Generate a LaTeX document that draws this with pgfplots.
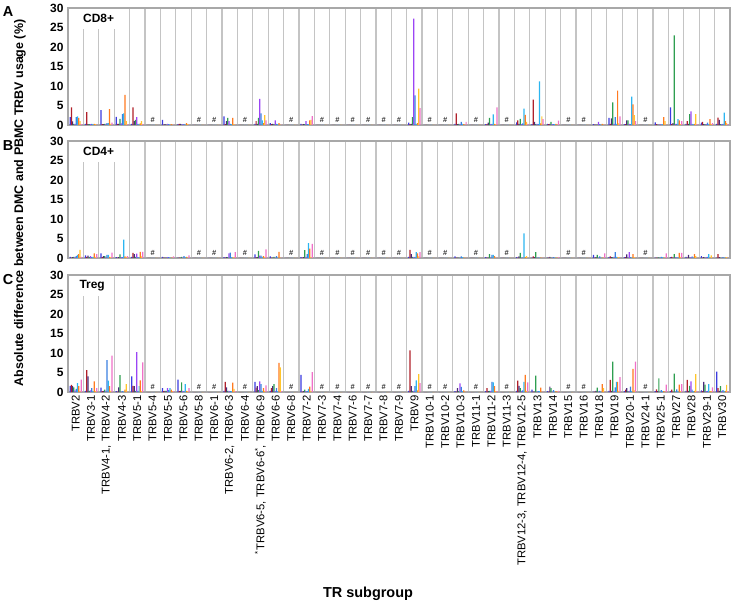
\documentclass[border=0pt]{standalone}
\usepackage{pgfplots}
\pgfplotsset{compat=1.18}
\usepackage{pgfplotstable}
\usepackage{fontspec}
\setmainfont{Liberation Sans}

\definecolor{c1}{HTML}{3B3BE0}
\definecolor{c2}{HTML}{B0202A}
\definecolor{c3}{HTML}{4A2A7A}
\definecolor{c4}{HTML}{2E9E50}
\definecolor{c5}{HTML}{9B45F5}
\definecolor{c6}{HTML}{3A80E0}
\definecolor{c7}{HTML}{2CB5F0}
\definecolor{c8}{HTML}{FF7A20}
\definecolor{c9}{HTML}{FFC52A}
\definecolor{c10}{HTML}{F070C8}
\definecolor{gridc}{HTML}{C4C4C4}
\definecolor{framec}{HTML}{A8A8A8}

% CD8+
\pgfplotstableread{
x a b c d e f g h i j
0 2.0 4.5 0.9 0.3 0.3 2.0 2.2 1.8 1.0 0.2
1 0.3 3.3 0.2 0.2 0.2 0.3 0.2 0.3 0.2 0.1
2 3.8 0.2 0.2 0.3 0.3 0.5 0.5 4.1 0.3 0.6
3 2.1 0.3 0.3 1.6 0.4 2.8 3.0 7.7 1.0 0.2
4 0.3 4.5 1.0 1.3 2.0 0.3 0.2 0.4 1.0 0.2
5 0 0 0 0 0 0 0 0 0 0
6 1.3 0.1 0.2 0.1 0.3 0.2 0.1 0.2 0.1 0.1
7 0.2 0.3 0.3 0.1 0.2 0.2 0.1 0.5 0.2 0.1
8 0 0 0 0 0 0 0 0 0 0
9 0 0 0 0 0 0 0 0 0 0
10 2.2 0.2 1.0 1.8 1.0 0.3 0.2 1.8 0.2 0.1
11 0 0 0 0 0 0 0 0 0 0
12 0.3 1.0 0.3 1.8 6.7 3.0 1.2 0.5 2.5 1.2
13 0.5 0.2 0.3 0.2 1.2 0.3 0.2 0.5 0.1 0.1
14 0 0 0 0 0 0 0 0 0 0
15 0.3 0.1 0.2 0.2 1.0 0.2 0.2 1.2 1.3 2.3
16 0 0 0 0 0 0 0 0 0 0
17 0 0 0 0 0 0 0 0 0 0
18 0 0 0 0 0 0 0 0 0 0
19 0 0 0 0 0 0 0 0 0 0
20 0 0 0 0 0 0 0 0 0 0
21 0 0 0 0 0 0 0 0 0 0
22 0.6 0.2 0.3 2.0 27.3 7.6 0.3 0.5 9.3 4.3
23 0 0 0 0 0 0 0 0 0 0
24 0 0 0 0 0 0 0 0 0 0
25 0.3 3.0 0.2 0.3 0.2 0.8 0.3 0.2 0.1 0.8
26 0 0 0 0 0 0 0 0 0 0
27 0.2 0.2 0.6 1.8 0.2 0.3 2.7 0.3 0.2 4.5
28 0 0 0 0 0 0 0 0 0 0
29 0.7 1.2 0.3 1.6 0.2 0.4 4.2 2.6 0.8 0.3
30 0.2 6.5 0.8 0.2 0.3 0.2 11.2 0.4 2.2 1.5
31 0.3 0.2 0.3 0.8 0.2 0.2 0.2 0.3 0.1 1.1
32 0 0 0 0 0 0 0 0 0 0
33 0 0 0 0 0 0 0 0 0 0
34 0.2 0.1 0.1 0.1 0.8 0.2 0.1 0.3 0.1 0.1
35 1.8 0.3 1.7 5.8 0.3 2.0 0.3 8.8 0.4 2.2
36 0.2 0.2 1.2 1.2 0.3 0.2 7.3 5.3 2.5 1.0
37 0 0 0 0 0 0 0 0 0 0
38 0.7 0.2 0.1 0.1 0.2 0.1 0.2 2.0 1.0 0.1
39 4.5 0.2 0.5 23.0 0.3 0.3 1.5 1.2 0.2 1.0
40 0.3 1.0 0.3 2.8 3.5 0.3 0.2 0.3 2.8 0.2
41 0.6 0.8 0.2 0.2 0.2 0.6 0.2 1.5 0.2 0.5
42 0.3 1.9 1.3 0.2 0.2 0.3 3.2 1.0 0.5 0.2
}\tA

% CD4+
\pgfplotstableread{
x a b c d e f g h i j
0 0.3 0.1 0.2 0.3 0.3 0.5 0.8 1.0 2.1 0.3
1 0.7 0.3 0.6 0.2 0.5 0.2 0.3 1.2 0.3 1.0
2 1.2 0.2 0.5 0.5 0.3 0.8 0.8 0.3 0.2 1.4
3 0.2 0.1 0.2 0.9 0.2 0.2 4.7 0.4 0.3 0.5
4 0.3 1.3 1.0 0.3 1.1 0.2 0.2 1.6 0.4 1.6
5 0 0 0 0 0 0 0 0 0 0
6 0.3 0.1 0.1 0.1 0.2 0.2 0.1 0.1 0.1 0.4
7 0.1 0.1 0.1 0.3 0.1 0.5 0.2 0.3 0.1 0.7
8 0 0 0 0 0 0 0 0 0 0
9 0 0 0 0 0 0 0 0 0 0
10 0.2 0.1 0.2 0.2 1.2 1.4 0.2 0.1 0.2 1.5
11 0 0 0 0 0 0 0 0 0 0
12 0.9 0.2 0.2 1.8 0.6 0.6 0.3 0.5 0.2 2.2
13 0.4 0.1 0.1 0.3 0.1 0.5 0.1 1.6 0.1 0.1
14 0 0 0 0 0 0 0 0 0 0
15 0.2 0.1 0.2 2.0 0.3 1.0 3.8 2.4 0.2 3.6
16 0 0 0 0 0 0 0 0 0 0
17 0 0 0 0 0 0 0 0 0 0
18 0 0 0 0 0 0 0 0 0 0
19 0 0 0 0 0 0 0 0 0 0
20 0 0 0 0 0 0 0 0 0 0
21 0 0 0 0 0 0 0 0 0 0
22 0.3 2.1 1.0 0.3 0.2 0.3 1.5 1.2 0.4 1.5
23 0 0 0 0 0 0 0 0 0 0
24 0 0 0 0 0 0 0 0 0 0
25 0.4 0.1 0.1 0.1 0.1 0.4 0.2 0.1 0.1 0.1
26 0 0 0 0 0 0 0 0 0 0
27 0.2 0.1 0.1 1.0 0.1 0.8 0.8 0.5 0.1 0.1
28 0 0 0 0 0 0 0 0 0 0
29 0.2 0.1 0.4 1.3 0.1 0.1 6.3 0.2 0.5 0.1
30 0.1 0.4 0.2 1.5 0.1 0.1 0.1 0.1 0.1 0.1
31 0.1 0.1 0.3 0.1 0.1 0.2 0.1 0.1 0.1 0.2
32 0 0 0 0 0 0 0 0 0 0
33 0 0 0 0 0 0 0 0 0 0
34 0.8 0.1 0.2 0.8 0.1 0.4 0.1 0.1 0.1 1.2
35 0.2 0.4 0.2 0.2 0.3 1.5 0.3 0.1 0.2 0.1
36 0.2 0.2 0.9 0.1 1.5 0.2 0.1 1.0 0.2 0.1
37 0 0 0 0 0 0 0 0 0 0
38 0.1 0.1 0.1 0.2 0.1 0.3 0.2 0.1 0.1 1.2
39 0.2 0.3 0.1 1.0 0.2 0.1 0.2 1.3 0.3 1.3
40 0.3 0.1 0.8 0.1 0.2 0.4 0.1 1.0 0.5 0.1
41 0.5 0.1 0.2 0.1 0.2 0.3 1.0 0.1 0.7 0.1
42 0.1 1.0 0.2 0.1 0.1 0.2 0.1 0.1 0.2 0.1
}\tB

% Treg
\pgfplotstableread{
x a b c d e f g h i j
0 1.6 1.8 1.5 1.2 0.4 0.8 2.3 1.5 0.3 3.2
1 0.3 5.6 4.0 0.3 0.4 1.0 0.2 2.7 0.3 1.0
2 1.1 0.2 0.3 0.6 0.3 8.2 2.9 1.5 0.3 9.3
3 0.2 0.1 1.2 4.3 0.1 0.2 0.1 0.6 2.0 0.1
4 4.0 1.6 1.5 0.3 10.2 0.3 1.5 3.0 0.3 7.6
5 0 0 0 0 0 0 0 0 0 0
6 1.0 0.2 0.3 0.3 1.0 0.5 1.0 0.6 0.2 0.2
7 3.2 0.2 0.3 2.5 0.3 0.2 2.0 0.3 0.2 1.0
8 0 0 0 0 0 0 0 0 0 0
9 0 0 0 0 0 0 0 0 0 0
10 0.3 2.6 1.2 0.3 0.3 0.2 0.2 2.4 0.8 0.2
11 0 0 0 0 0 0 0 0 0 0
12 2.6 1.1 1.5 0.5 2.7 2.0 0.3 1.0 0.3 1.7
13 0.3 1.0 1.5 2.0 0.3 1.0 0.2 7.5 6.3 0.2
14 0 0 0 0 0 0 0 0 0 0
15 4.4 0.1 0.2 0.6 0.2 0.2 0.8 1.4 0.2 5.1
16 0 0 0 0 0 0 0 0 0 0
17 0 0 0 0 0 0 0 0 0 0
18 0 0 0 0 0 0 0 0 0 0
19 0 0 0 0 0 0 0 0 0 0
20 0 0 0 0 0 0 0 0 0 0
21 0 0 0 0 0 0 0 0 0 0
22 0.3 10.7 1.5 0.3 0.3 1.5 3.0 0.4 4.6 2.3
23 0 0 0 0 0 0 0 0 0 0
24 0 0 0 0 0 0 0 0 0 0
25 0.2 0.1 1.0 0.2 2.2 1.3 0.2 0.4 0.1 0.1
26 0 0 0 0 0 0 0 0 0 0
27 0.2 1.0 0.2 0.3 0.3 2.6 2.5 1.5 0.2 0.2
28 0 0 0 0 0 0 0 0 0 0
29 0.3 2.9 1.6 1.0 0.3 0.4 2.6 4.4 0.3 2.5
30 0.6 0.1 0.1 4.2 0.1 0.2 0.2 1.1 0.1 0.1
31 0.2 0.1 1.4 1.0 0.1 0.5 0.1 0.2 0.1 0.3
32 0 0 0 0 0 0 0 0 0 0
33 0 0 0 0 0 0 0 0 0 0
34 0.1 0.1 0.3 1.1 0.1 0.3 0.1 2.0 1.0 0.1
35 0.3 3.1 0.3 7.8 0.3 1.2 2.6 2.6 0.3 3.8
36 0.2 0.6 1.0 0.2 0.3 1.4 0.2 5.9 0.4 7.8
37 0 0 0 0 0 0 0 0 0 0
38 0.2 0.7 0.2 3.5 0.1 0.5 0.2 0.2 0.1 1.9
39 0.2 0.6 0.1 4.7 0.1 0.7 0.2 1.9 0.2 2.0
40 0.3 3.1 0.3 1.6 2.7 0.6 0.2 0.3 4.6 0.2
41 0.4 0.2 2.6 1.9 0.2 0.3 2.0 0.2 0.2 1.2
42 5.2 1.0 0.3 1.5 0.2 0.5 0.2 0.3 1.8 0.2
}\tC

\newcommand{\groupbars}[1]{%
\addplot[ybar,bar width=0.08,bar shift=-0.36,draw=none,fill=c1] table[x=x,y=a]{#1};
\addplot[ybar,bar width=0.08,bar shift=-0.28,draw=none,fill=c2] table[x=x,y=b]{#1};
\addplot[ybar,bar width=0.08,bar shift=-0.20,draw=none,fill=c3] table[x=x,y=c]{#1};
\addplot[ybar,bar width=0.08,bar shift=-0.12,draw=none,fill=c4] table[x=x,y=d]{#1};
\addplot[ybar,bar width=0.08,bar shift=-0.04,draw=none,fill=c5] table[x=x,y=e]{#1};
\addplot[ybar,bar width=0.08,bar shift=0.04,draw=none,fill=c6] table[x=x,y=f]{#1};
\addplot[ybar,bar width=0.08,bar shift=0.12,draw=none,fill=c7] table[x=x,y=g]{#1};
\addplot[ybar,bar width=0.08,bar shift=0.20,draw=none,fill=c8] table[x=x,y=h]{#1};
\addplot[ybar,bar width=0.08,bar shift=0.28,draw=none,fill=c9] table[x=x,y=i]{#1};
\addplot[ybar,bar width=0.08,bar shift=0.36,draw=none,fill=c10] table[x=x,y=j]{#1};
\addplot[only marks, mark=text, text mark as node=true, text mark={\#}, text mark style={font=\fontsize{7.5}{7.5}\selectfont\bfseries, text=black!80, inner sep=0pt}]
 coordinates {(5,1.3)(8,1.3)(9,1.3)(11,1.3)(14,1.3)(16,1.3)(17,1.3)(18,1.3)(19,1.3)(20,1.3)(21,1.3)(23,1.3)(24,1.3)(26,1.3)(28,1.3)(32,1.3)(33,1.3)(37,1.3)};
}

\pgfplotsset{
panel/.style={
  scale only axis, width=662bp, height=117bp, anchor=north west,
  xmin=-0.5, xmax=42.5, ymin=0, ymax=30,
  ytick={0,5,...,30},
  xtick={0,...,42},
  minor xtick={0.5,1.5,...,41.5},
  xminorgrids=true,
  minor grid style={draw=gridc, line width=1.2bp},
  major tick length=0pt, minor tick length=0pt,
  axis line style={draw=framec, line width=1.2bp},
  /pgf/number format/assume math mode=true,
  yticklabel style={font=\fontsize{12}{12}\selectfont\bfseries, xshift=-1bp},
  xticklabel style={font=\fontsize{11.3}{12}\selectfont, rotate=90, anchor=east},
  clip=false,
},
}

\begin{document}
\begin{tikzpicture}
\useasboundingbox (-68bp,8bp) rectangle (666bp,-598bp);

\begin{axis}[panel, at={(0bp,0bp)}, xticklabels={}]
\groupbars{\tA}
\node[fill=white, anchor=north west, inner sep=0pt, minimum width=53bp, minimum height=19.5bp, font=\fontsize{12}{12}\selectfont\bfseries] at (rel axis cs:0.006,0.993) {CD8+};
\end{axis}

\begin{axis}[panel, at={(0bp,-133bp)}, xticklabels={}]
\groupbars{\tB}
\node[fill=white, anchor=north west, inner sep=0pt, minimum width=53bp, minimum height=19.5bp, font=\fontsize{12}{12}\selectfont\bfseries] at (rel axis cs:0.006,0.993) {CD4+};
\end{axis}

\begin{axis}[panel, at={(0bp,-267bp)},
  xticklabels={TRBV2, TRBV3-1, {TRBV4-1, TRBV4-2}, TRBV4-3, TRBV5-1, TRBV5-4, TRBV5-5, TRBV5-6, TRBV5-8, TRBV6-1, {TRBV6-2, TRBV6-3}, TRBV6-4, {\textsuperscript{*}TRBV6-5, TRBV6-6\textsuperscript{*}, TRBV6-9}, TRBV6-6, TRBV6-8, TRBV7-2, TRBV7-3, TRBV7-4, TRBV7-6, TRBV7-7, TRBV7-8, TRBV7-9, TRBV9, TRBV10-1, TRBV10-2, TRBV10-3, TRBV11-1, TRBV11-2, TRBV11-3, {TRBV12-3, TRBV12-4, TRBV12-5}, TRBV13, TRBV14, TRBV15, TRBV16, TRBV18, TRBV19, TRBV20-1, TRBV24-1, TRBV25-1, TRBV27, TRBV28, TRBV29-1, TRBV30}]
\groupbars{\tC}
\node[fill=white, anchor=north west, inner sep=0pt, minimum width=40bp, minimum height=19.5bp, font=\fontsize{12}{12}\selectfont\bfseries] at (rel axis cs:0.006,0.993) {Treg};
\end{axis}

\node[font=\fontsize{14.5}{14}\selectfont\bfseries] at (-60bp,-4bp) {A};
\node[font=\fontsize{14.5}{14}\selectfont\bfseries] at (-60bp,-138bp) {B};
\node[font=\fontsize{14.5}{14}\selectfont\bfseries] at (-60bp,-272bp) {C};
\node[rotate=90, font=\fontsize{12.5}{12}\selectfont\bfseries] at (-48bp,-195bp) {Absolute difference between DMC and PBMC TRBV usage (\%)};
\node[font=\fontsize{14.5}{15}\selectfont\bfseries] at (300bp,-586bp) {TR subgroup};
\end{tikzpicture}
\end{document}
